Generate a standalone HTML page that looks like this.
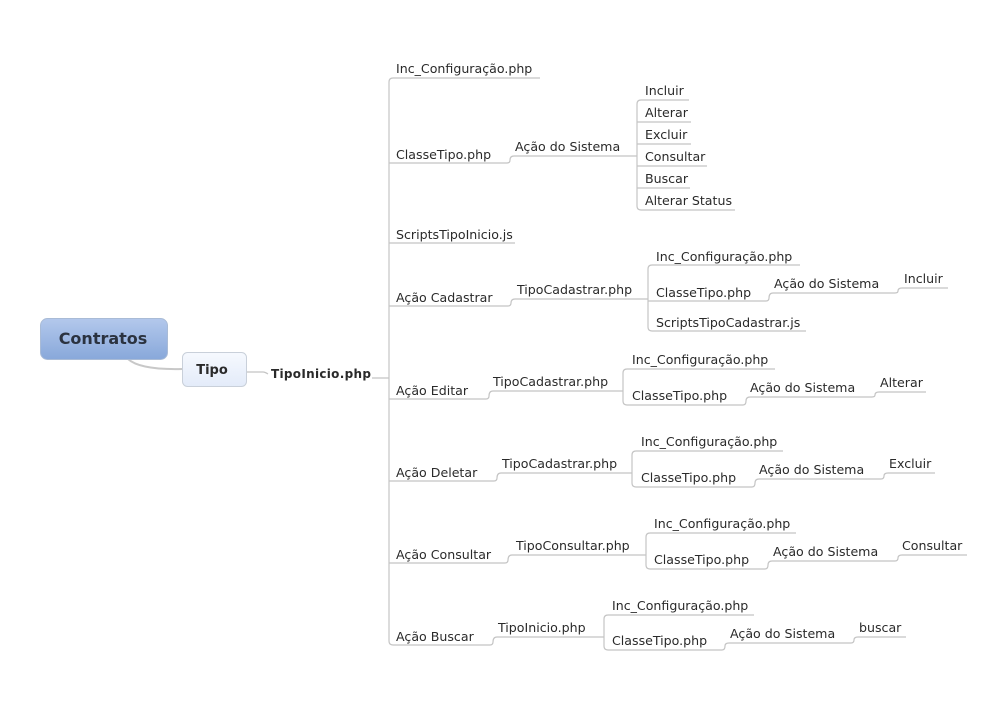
<!DOCTYPE html>
<html><head><meta charset="utf-8">
<style>
html,body{margin:0;padding:0;background:#fff;}
svg{display:block;}
text{font-family:"DejaVu Sans","Liberation Sans",sans-serif;font-size:12.6px;fill:#2a2a2a;}
.b{font-weight:bold;}
path,line{fill:none;stroke:#c4c4c4;stroke-width:1.2;}
</style></head><body>
<svg width="1004" height="717" viewBox="0 0 1004 717" xmlns="http://www.w3.org/2000/svg">
<defs>
<linearGradient id="g1" x1="0" y1="0" x2="0" y2="1"><stop offset="0" stop-color="#b3c8ec"/><stop offset="1" stop-color="#88a8da"/></linearGradient>
<linearGradient id="g2" x1="0" y1="0" x2="0" y2="1"><stop offset="0" stop-color="#f6f9fe"/><stop offset="1" stop-color="#e3ebf9"/></linearGradient>
</defs>
<path d="M128 359 Q140 370 182 369" style="stroke:#c8c8c8;stroke-width:2"/>
<path d="M247 372 L263 372 Q265 372 268 374"/>
<rect x="40.5" y="318.5" width="127" height="41" rx="7" fill="url(#g1)" stroke="#a9bbd6"/>
<text x="103" y="344" text-anchor="middle" class="b" style="font-size:16px;fill:#2b3340">Contratos</text>
<rect x="182.5" y="352.5" width="64" height="34" rx="5" fill="url(#g2)" stroke="#c9d0da"/>
<text x="212" y="374" text-anchor="middle" class="b" style="font-size:13px">Tipo</text>
<text x="271" y="378" class="b" style="font-size:12px;letter-spacing:0.3px">TipoInicio.php</text>
<line x1="372" y1="378" x2="389" y2="378"/>

<path d="M393 78 Q389 78 389 82 L389 641 Q389 645 393 645"/>
<text x="396" y="73">Inc_Configuração.php</text><line x1="393" y1="78" x2="540" y2="78"/>
<text x="396" y="159">ClasseTipo.php</text><line x1="389" y1="163" x2="507" y2="163"/>
<text x="396" y="239">ScriptsTipoInicio.js</text><line x1="389" y1="243" x2="515" y2="243"/>
<text x="396" y="302">Ação Cadastrar</text><line x1="389" y1="306" x2="508" y2="306"/>
<text x="396" y="395">Ação Editar</text><line x1="389" y1="399" x2="486" y2="399"/>
<text x="396" y="477">Ação Deletar</text><line x1="389" y1="481" x2="494" y2="481"/>
<text x="396" y="559">Ação Consultar</text><line x1="389" y1="563" x2="505" y2="563"/>
<text x="396" y="641">Ação Buscar</text><line x1="393" y1="645" x2="490" y2="645"/>

<path d="M507 163 Q510 163 510 160 Q510 156 514 156 L637 156"/>
<text x="515" y="151">Ação do Sistema</text>
<path d="M641 100 Q637 100 637 104 L637 206 Q637 210 641 210"/>
<text x="645" y="95">Incluir</text><line x1="641" y1="100" x2="689" y2="100"/>
<text x="645" y="117">Alterar</text><line x1="637" y1="122" x2="691" y2="122"/>
<text x="645" y="139">Excluir</text><line x1="637" y1="144" x2="691" y2="144"/>
<text x="645" y="161">Consultar</text><line x1="637" y1="166" x2="707" y2="166"/>
<text x="645" y="183">Buscar</text><line x1="637" y1="188" x2="690" y2="188"/>
<text x="645" y="205">Alterar Status</text><line x1="641" y1="210" x2="735" y2="210"/>

<path d="M508 306 Q511 306 511 303 Q511 299 515 299 L648 299"/>
<text x="517" y="294">TipoCadastrar.php</text>
<path d="M652 265 Q648 265 648 269 L648 327 Q648 331 652 331"/>
<text x="656" y="261">Inc_Configuração.php</text><line x1="652" y1="265" x2="800" y2="265"/>
<text x="656" y="297">ClasseTipo.php</text><line x1="648" y1="301" x2="766" y2="301"/>
<text x="656" y="327">ScriptsTipoCadastrar.js</text><line x1="652" y1="331" x2="806" y2="331"/>
<path d="M766 301 Q769 301 769 298 Q769 293 773 293 L895 293"/>
<text x="774" y="288">Ação do Sistema</text>
<path d="M895 293 Q898 293 898 291 Q898 288 902 288 L948 288"/>
<text x="904" y="283">Incluir</text>

<path d="M486 399 Q489 399 489 396 Q489 391 493 391 L623 391"/>
<text x="493" y="386">TipoCadastrar.php</text>
<path d="M627 369 Q623 369 623 373 L623 401 Q623 405 627 405"/>
<text x="632" y="364">Inc_Configuração.php</text><line x1="627" y1="369" x2="775" y2="369"/>
<text x="632" y="400">ClasseTipo.php</text><line x1="627" y1="405" x2="743" y2="405"/>
<path d="M743 405 Q746 405 746 401 Q746 397 750 397 L872 397"/>
<text x="750" y="392">Ação do Sistema</text>
<path d="M872 397 Q875 397 875 395 Q875 392 879 392 L926 392"/>
<text x="880" y="387">Alterar</text>

<path d="M494 481 Q497 481 497 478 Q497 473 501 473 L632 473"/>
<text x="502" y="468">TipoCadastrar.php</text>
<path d="M636 451 Q632 451 632 455 L632 483 Q632 487 636 487"/>
<text x="641" y="446">Inc_Configuração.php</text><line x1="636" y1="451" x2="783" y2="451"/>
<text x="641" y="482">ClasseTipo.php</text><line x1="636" y1="487" x2="752" y2="487"/>
<path d="M752 487 Q755 487 755 483 Q755 479 759 479 L881 479"/>
<text x="759" y="474">Ação do Sistema</text>
<path d="M881 479 Q884 479 884 476 Q884 473 888 473 L935 473"/>
<text x="889" y="468">Excluir</text>

<path d="M505 563 Q508 563 508 560 Q508 555 512 555 L646 555"/>
<text x="516" y="550">TipoConsultar.php</text>
<path d="M650 533 Q646 533 646 537 L646 565 Q646 569 650 569"/>
<text x="654" y="528">Inc_Configuração.php</text><line x1="650" y1="533" x2="796" y2="533"/>
<text x="654" y="564">ClasseTipo.php</text><line x1="650" y1="569" x2="765" y2="569"/>
<path d="M765 569 Q768 569 768 565 Q768 561 772 561 L895 561"/>
<text x="773" y="556">Ação do Sistema</text>
<path d="M895 561 Q898 561 898 558 Q898 555 902 555 L967 555"/>
<text x="902" y="550">Consultar</text>

<path d="M490 645 Q493 645 493 642 Q493 637 497 637 L604 637"/>
<text x="498" y="632">TipoInicio.php</text>
<path d="M608 615 Q604 615 604 619 L604 646 Q604 650 608 650"/>
<text x="612" y="610">Inc_Configuração.php</text><line x1="608" y1="615" x2="754" y2="615"/>
<text x="612" y="645">ClasseTipo.php</text><line x1="608" y1="650" x2="722" y2="650"/>
<path d="M722 650 Q725 650 725 646 Q725 643 729 643 L851 643"/>
<text x="730" y="638">Ação do Sistema</text>
<path d="M851 643 Q854 643 854 640 Q854 637 858 637 L906 637"/>
<text x="859" y="632">buscar</text>
</svg>
</body></html>
